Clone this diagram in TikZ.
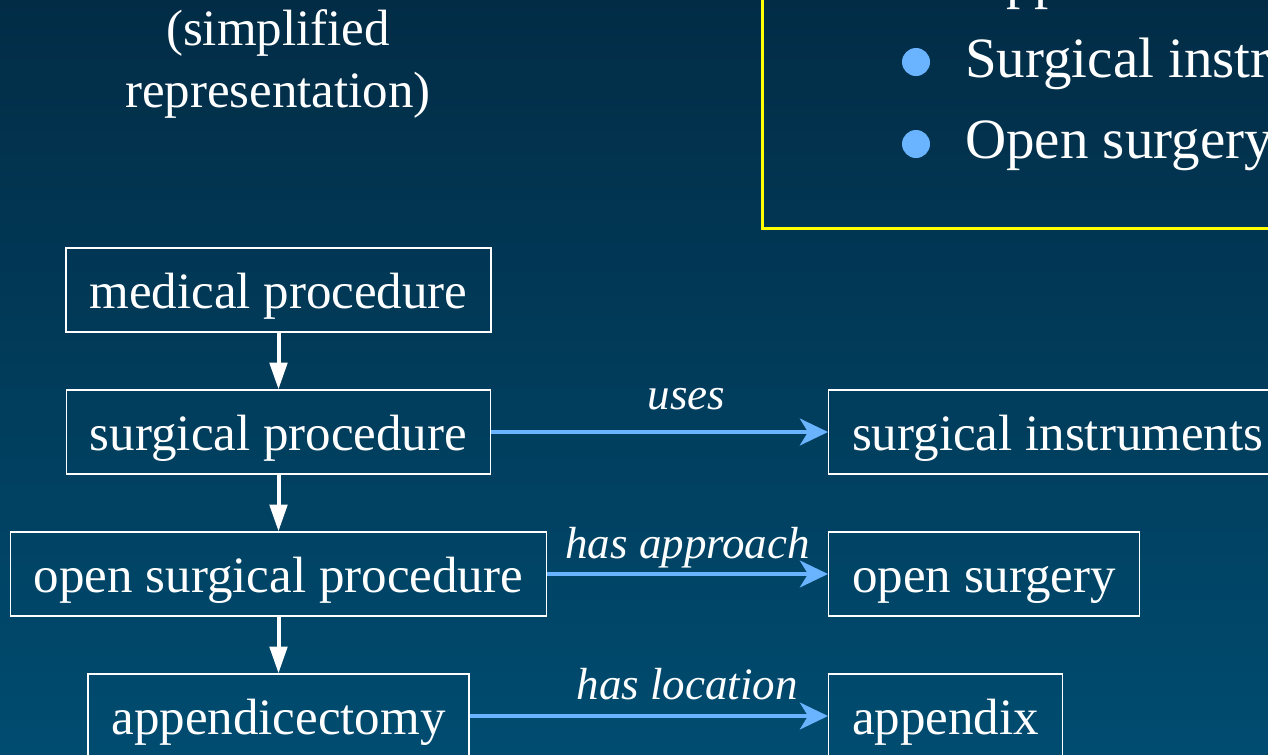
\documentclass[tikz,border=0pt]{standalone}
\usepackage{fontspec}
\setmainfont{Liberation Serif}
\usetikzlibrary{arrows.meta}
\definecolor{bgtop}{RGB}{2,44,70}
\definecolor{bgbot}{RGB}{0,76,112}
\definecolor{linkblue}{RGB}{106,180,255}
\definecolor{frameyellow}{RGB}{255,255,0}

\begin{document}
\begin{tikzpicture}[x=0.75pt,y=-0.75pt,
  concept/.style={draw=white, line width=1pt, text=white, inner xsep=17.6pt,
    inner ysep=0pt, minimum height=63pt, text height=35.6pt, text depth=8.4pt,
    font=\fontsize{38.25}{46}\selectfont},
  isa/.style={draw=white, line width=3pt, -{Triangle[length=20pt,width=13pt]}},
  rel/.style={draw=linkblue, line width=3.4pt, -{Stealth[length=21pt,width=20pt,inset=6pt]}},
  rellabel/.style={text=white, inner sep=0pt, anchor=base,
    font=\fontsize{33.75}{40}\selectfont\itshape},
  heading/.style={text=white, inner sep=0pt, align=center, anchor=base,
    font=\fontsize{38.25}{46.5}\selectfont},
  itemtext/.style={text=white, inner sep=0pt, anchor=base west,
    font=\fontsize{42.75}{50}\selectfont},
  itemdot/.style={circle, fill=linkblue, inner sep=0pt, minimum size=21pt}
]
\useasboundingbox (0,0) rectangle (1268,754);
\shade[top color=bgtop, bottom color=bgbot] (0,0) rectangle (1268,754);
\clip (0,0) rectangle (1268,754);

% framed bullet list
\draw[frameyellow, line width=2.8pt] (762.5,-40) rectangle (1320,228.5);
\node[itemtext] (item0) at (965,-3) {Appendectomy};
\node[itemdot] (dot1) at (916,62) {};
\node[itemtext] (item1) at (965,77) {Surgical instruments};
\node[itemdot] (dot2) at (916,144) {};
\node[itemtext] (item2) at (965,158) {Open surgery};

% heading (base anchor sits on the last line)
\node[heading] (head) at (278,107) {(simplified\\representation)};

% is-a hierarchy
\node[concept] (med)  at (278.5,290) {medical procedure};
\node[concept] (surg) at (278.5,432) {surgical procedure};
\node[concept] (open) at (278.5,574) {open surgical procedure};
\node[concept] (appx) at (278.5,716) {appendicectomy};

% related concepts
\node[concept, anchor=west] (instr)  at (828,432) {surgical instruments};
\node[concept, anchor=west] (opens)  at (828,574) {open surgery};
\node[concept, anchor=west] (append) at (828,716) {appendix};

\draw[isa] (med) -- (surg);
\draw[isa] (surg) -- (open);
\draw[isa] (open) -- (appx);

\draw[rel] (surg.east) -- node[rellabel, pos=0.58, yshift=17pt] {uses} (instr.west);
\draw[rel] (open.east) -- node[rellabel, pos=0.5, yshift=12pt] {has approach} (opens.west);
\draw[rel] (appx.east) -- node[rellabel, pos=0.607, yshift=12.75pt] {has location} (append.west);
\end{tikzpicture}
\end{document}
